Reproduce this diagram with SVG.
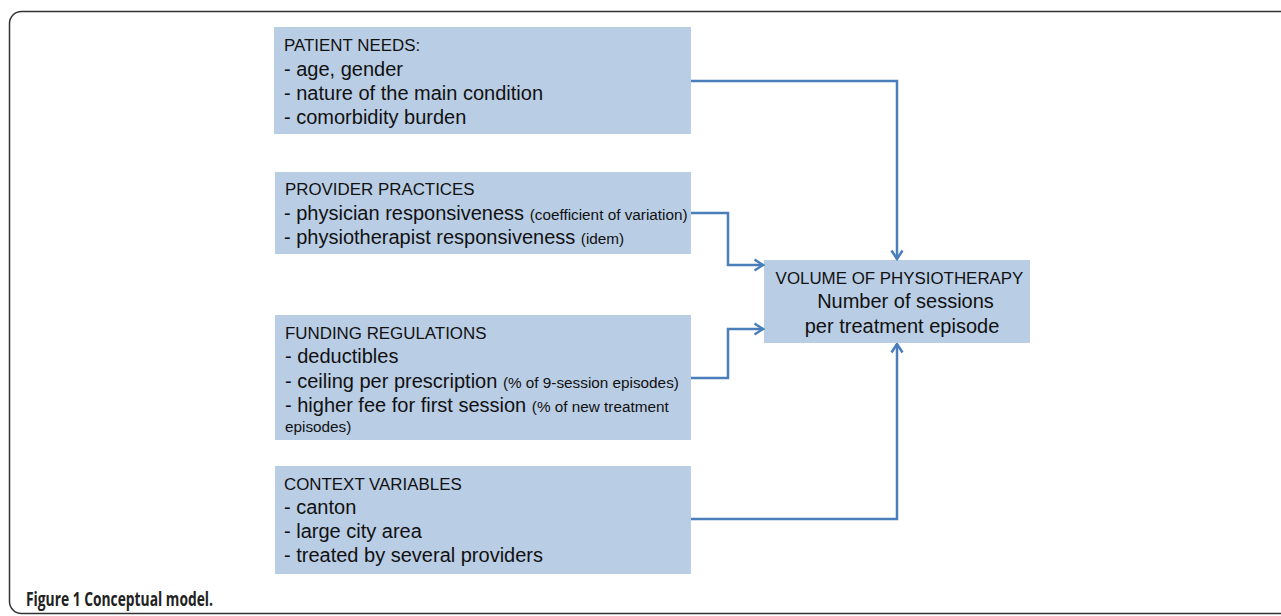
<svg xmlns="http://www.w3.org/2000/svg" width="1281" height="616" viewBox="0 0 1281 616">
<defs>
<style>
.frame{fill:none;stroke:#333;stroke-width:1.5}
.box{fill:#b9cde5}
.h{font-family:"Liberation Sans",Arial,sans-serif;font-size:16.9px;fill:#111}
.t{font-family:"Liberation Sans",Arial,sans-serif;font-size:20px;fill:#111}
.s{font-size:15.3px}
.c{stroke:#4a7ebb;stroke-width:2.5;fill:none}
.cap{font-family:"Open Sans","Liberation Sans",sans-serif;font-weight:bold;font-size:20px;fill:#222}
</style>
<marker id="arr" viewBox="0 0 14 14" refX="12.5" refY="7" markerWidth="14" markerHeight="14" markerUnits="userSpaceOnUse" orient="auto">
<path d="M4,1.5 L12.5,7 L4,12.5" fill="none" stroke="#4a7ebb" stroke-width="2.5"/>
</marker>
</defs>
<rect width="1281" height="616" fill="#fff"/>
<rect class="frame" x="9.5" y="11.5" width="1300" height="602" rx="12"/>
<g id="patient">
<rect class="box" x="274" y="27" width="417" height="107"/>
<text class="h" x="284" y="51">PATIENT NEEDS:</text>
<text class="t" x="284" y="76">- age, gender</text>
<text class="t" x="284" y="100">- nature of the main condition</text>
<text class="t" x="284" y="124">- comorbidity burden</text>
</g>
<g id="provider">
<rect class="box" x="275" y="172" width="416" height="82"/>
<text class="h" x="285" y="195">PROVIDER PRACTICES</text>
<text class="t" x="284" y="220">- physician responsiveness <tspan class="s">(coefficient of variation)</tspan></text>
<text class="t" x="284" y="244">- physiotherapist responsiveness <tspan class="s">(idem)</tspan></text>
</g>
<g id="funding">
<rect class="box" x="275" y="315" width="416" height="125"/>
<text class="h" x="285" y="339">FUNDING REGULATIONS</text>
<text class="t" x="285" y="363">- deductibles</text>
<text class="t" x="285" y="388">- ceiling per prescription <tspan class="s">(% of 9-session episodes)</tspan></text>
<text class="t" x="285" y="412">- higher fee for first session <tspan class="s">(% of new treatment</tspan></text>
<text class="t s" x="285" y="432">episodes)</text>
</g>
<g id="context">
<rect class="box" x="275" y="466" width="416" height="108"/>
<text class="h" x="284" y="490">CONTEXT VARIABLES</text>
<text class="t" x="284" y="514">- canton</text>
<text class="t" x="284" y="538">- large city area</text>
<text class="t" x="284" y="562">- treated by several providers</text>
</g>
<g id="volume">
<rect class="box" x="764" y="260" width="266" height="83"/>
<text class="h" x="899.5" y="284" text-anchor="middle">VOLUME OF PHYSIOTHERAPY</text>
<text class="t" x="905.5" y="308" text-anchor="middle">Number of sessions</text>
<text class="t" x="902" y="333" text-anchor="middle">per treatment episode</text>
</g>
<g id="connectors">
<path class="c" d="M691,81 H897 V259" marker-end="url(#arr)"/>
<path class="c" d="M691,213 H728 V265 H763" marker-end="url(#arr)"/>
<path class="c" d="M691,378 H728 V329 H763" marker-end="url(#arr)"/>
<path class="c" d="M691,519 H897 V344" marker-end="url(#arr)"/>
</g>
<text class="cap" x="26" y="606" textLength="187" lengthAdjust="spacingAndGlyphs">Figure 1 Conceptual model.</text>
</svg>
